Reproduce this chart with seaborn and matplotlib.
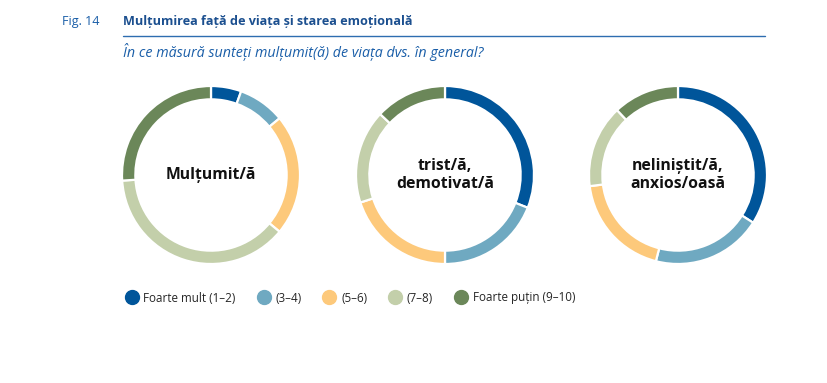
import matplotlib
matplotlib.use('Agg')
import matplotlib.pyplot as plt
import seaborn as sns
from matplotlib.lines import Line2D

# ── DATA ──────────────────────────────────────────────────────────────────────
categories = ["Foarte mult (1–2)", "(3–4)", "(5–6)", "(7–8)", "Foarte puțin (9–10)"]
centre_labels = ["Mulțumit/ă", "trist/ă,\ndemotivat/ă", "neliniștit/ă,\nanxios/oasă"]
multumit   = [5.5, 8.5, 22, 38, 26]
trist      = [31, 19, 20, 17, 13]
nelinistit = [34, 20, 19, 15, 12]
series = [multumit, trist, nelinistit]

colors = ["#00559a", "#6fa9c1", "#fdc97b", "#c3cfaa", "#6b8759"]
title_blue = "#1b4f8f"

sns.set_theme(style="white")
plt.rcParams['font.family'] = ['Open Sans', 'DejaVu Sans']

W, H = 828, 383
fig = plt.figure(figsize=(W / 100, H / 100), dpi=100)

# ── HEADER ────────────────────────────────────────────────────────────────────
fig.text(62 / W, 1 - 21 / H, "Fig. 14", color="#1a5ea8", fontsize=9, va="center")
fig.text(123 / W, 1 - 21 / H, "Mulțumirea față de viața și starea emoțională",
         color=title_blue, fontsize=9.1, fontweight="bold", va="center")
fig.add_artist(Line2D([123 / W, 765 / W], [1 - 36 / H, 1 - 36 / H],
                      color="#2e6db0", lw=1.0))
fig.text(123 / W, 1 - 52 / H, "În ce măsură sunteți mulțumit(ă) de viața dvs. în general?",
         color="#1a5ea8", fontsize=10.3, style="italic", va="center")

# ── DONUTS ────────────────────────────────────────────────────────────────────
centres = [211, 445, 678]
R = 89
for cx, vals, lab in zip(centres, series, centre_labels):
    ax = fig.add_axes([(cx - R) / W, 1 - (175 + R) / H, 2 * R / W, 2 * R / H])
    ax.pie(vals, colors=colors, startangle=90, counterclock=False, radius=1,
           wedgeprops=dict(width=0.15, edgecolor="white", linewidth=1.6))
    ax.set_xlim(-1, 1)
    ax.set_ylim(-1, 1)
    ax.set_aspect("equal")
    ax.axis("off")
    ax.text(0, 0, lab, ha="center", va="center", fontsize=11.3,
            fontweight="bold", color="#111111", linespacing=1.25)

# ── LEGEND ────────────────────────────────────────────────────────────────────
handles = [Line2D([0], [0], marker="o", linestyle="", markersize=10,
                  markerfacecolor=c, markeredgecolor=c) for c in colors]
fig.legend(handles, categories, loc="center left",
           bbox_to_anchor=(114 / W, 1 - 298 / H), ncol=5, frameon=False,
           fontsize=8.4, handletextpad=0.4, columnspacing=1.8, handlelength=1.2)

fig.savefig("out.png", dpi=100)
